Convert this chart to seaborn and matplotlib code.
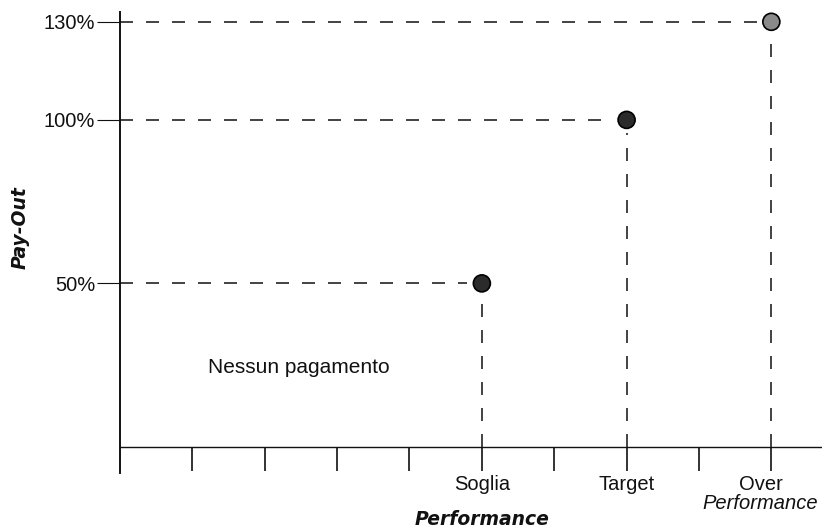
import matplotlib
matplotlib.use("Agg")
import matplotlib.pyplot as plt
import matplotlib.transforms as mtrans
import seaborn as sns

# dati
livelli = ["Soglia", "Target", "Over"]
perf_pos = [5, 7, 9]          # posizione sull'asse Performance
payout = [50, 100, 130]       # Pay-Out in %
tacche_x = [1, 2, 3, 4, 5, 6, 7, 8, 9]
tacche_y = [50, 100, 130]
etichette_y = ["50%", "100%", "130%"]
colori_punti = ["#2b2b2b", "#2b2b2b", "#8a8a8a"]

sns.set_style("ticks")
plt.rcParams["font.family"] = ["Liberation Sans", "DejaVu Sans"]
plt.rcParams["text.color"] = "#111111"

fig = plt.figure(figsize=(8.22, 5.29), dpi=100)
ax = fig.add_axes([120 / 822, 56 / 529, 702 / 822, 461 / 529])

# linee tratteggiate orizzontali e verticali
trat = (0, (7.8, 7.8))
ax.hlines(payout, 0, [p - 0.2 for p in perf_pos], colors="#222222", linewidth=1.2, linestyles=[trat])
ax.vlines(perf_pos, 0, [v - 4 for v in payout], colors="#222222", linewidth=1.2, linestyles=[trat])

sns.scatterplot(x=perf_pos, y=payout, hue=livelli, palette=colori_punti, s=150,
                edgecolor="black", linewidth=1.2, legend=False, ax=ax, zorder=5, clip_on=False)

ax.set_xlim(0, 9.7)
ax.set_ylim(-8, 133)

ax.spines["top"].set_visible(False)
ax.spines["right"].set_visible(False)
ax.spines["bottom"].set_position(("data", 0))
ax.spines["left"].set_linewidth(1.4)
ax.spines["bottom"].set_linewidth(1.0)
ax.spines["left"].set_color("#111111")
ax.spines["bottom"].set_color("#111111")

etich_x = ["" for t in tacche_x]
for p, l in zip(perf_pos, livelli):
    etich_x[tacche_x.index(p)] = l
ax.set_xticks(tacche_x)
ax.set_xticklabels(etich_x)
ax.set_yticks(tacche_y)
ax.set_yticklabels(etichette_y)
ax.tick_params(axis="x", direction="out", length=17, width=1.2, pad=3, labelsize=14.5, colors="#111111")
ax.tick_params(axis="y", direction="out", length=16.5, width=0.8, pad=1.5, labelsize=14.5, colors="#111111")

# "Over" un po' a sinistra della tacca, come nell'originale
spost = mtrans.ScaledTranslation(-10 / 100, 0, fig.dpi_scale_trans)
lab_over = ax.get_xticklabels()[tacche_x.index(9)]
lab_over.set_transform(lab_over.get_transform() + spost)

ax.text(8.84, -17.4, "Performance", style="italic", fontsize=14.5, ha="center", va="center", clip_on=False)
ax.text(1.215, 22.6, "Nessun pagamento", fontsize=15, ha="left", va="baseline")

ax.text(5, -22.3, "Performance", family="DejaVu Sans", fontweight="bold", style="italic",
        fontsize=13.5, ha="center", va="center", clip_on=False)
ax.text(-100 / 702, (473 - 228) / 461, "Pay-Out", family="DejaVu Sans", fontweight="bold",
        style="italic", fontsize=13.5, rotation=90, ha="center", va="center", transform=ax.transAxes)

ax.set_xlabel("")
ax.set_ylabel("")
fig.savefig("out.png", dpi=100)
